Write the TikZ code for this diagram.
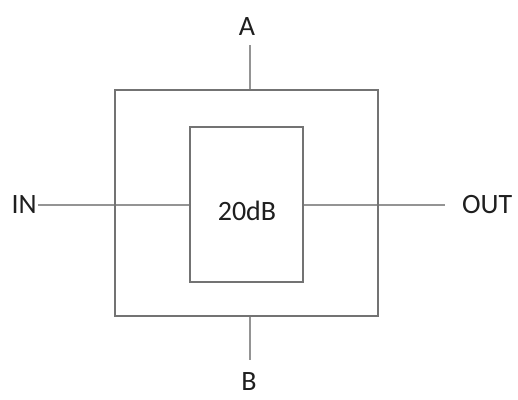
\documentclass[tikz,border=0pt]{standalone}
\usepackage{fontspec}
\setmainfont{Carlito}
\begin{document}
\begin{tikzpicture}[x=1pt,y=-1pt,
  boxstyle/.style={draw=black!55,line width=1.6pt,inner sep=0pt},
  wire/.style={draw=black!42,line width=1.6pt},
  lbl/.style={font=\fontsize{28}{32}\selectfont,text=black!88,inner sep=0pt}]
\useasboundingbox (0,0) rectangle (518,399);
\node[boxstyle,minimum width=263pt,minimum height=226pt] (outer) at (246.5,203) {};
\node[boxstyle,minimum width=113pt,minimum height=155pt,fill=white] (inner) at (246.5,204.5) {};
\node[lbl] (g) at (247,211) {20dB};
\node[lbl,anchor=east] (in) at (37,205) {IN};
\node[lbl,anchor=west] (out) at (462,205) {OUT};
\node[lbl] (a) at (247,27) {A};
\node[lbl] (b) at (249,382) {B};
\coordinate (inend) at (38,205);
\coordinate (outend) at (445,205);
\coordinate (aend) at (250,45);
\coordinate (bend) at (250,360);
\draw[wire] (inend) -- (inner.west |- inend);
\draw[wire] (inner.east |- outend) -- (outend);
\draw[wire] (aend) -- (aend |- outer.north);
\draw[wire] (bend |- outer.south) -- (bend);
\node[boxstyle,minimum width=263pt,minimum height=226pt] at (246.5,203) {};
\node[boxstyle,minimum width=113pt,minimum height=155pt] at (246.5,204.5) {};
\end{tikzpicture}
\end{document}
